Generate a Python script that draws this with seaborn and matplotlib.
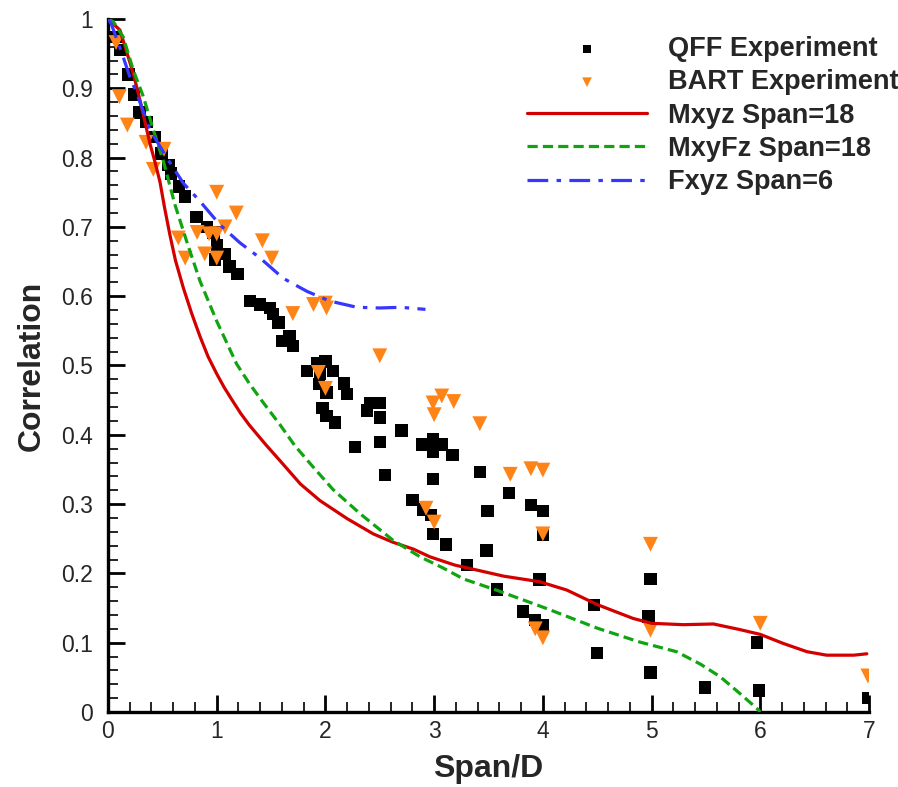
import numpy as np
import pandas as pd
import matplotlib
matplotlib.use("Agg")
import matplotlib.pyplot as plt
import matplotlib.ticker as mticker
import seaborn as sns

# ── Data ──────────────────────────────────────────────────────────────────────

qff_x = [0.07, 0.11, 0.187, 0.24, 0.288, 0.356, 0.43, 0.494, 0.555, 0.577,
         0.655, 0.708, 0.816, 0.908, 0.97, 1.0, 0.984, 1.07, 1.116, 1.19,
         1.306, 1.40, 1.49, 1.52, 1.567, 1.598, 1.67, 1.70, 1.83, 1.92,
         2.0, 2.07, 1.95, 1.94, 2.01, 2.17, 2.20, 1.975, 2.01, 2.09,
         2.41, 2.50, 2.385, 2.50, 2.70, 2.27, 2.50, 2.99, 2.89, 3.07,
         2.99, 3.17, 2.55, 2.99, 3.42, 3.69, 3.49, 3.89, 4.0, 4.0,
         2.80, 2.895, 2.97, 2.99, 3.11, 3.48, 3.30, 3.58, 3.97, 3.82,
         3.93, 4.0, 4.47, 4.50, 4.99, 4.97, 4.99, 5.49, 5.97, 5.99, 6.99]
qff_y = [0.974, 0.955, 0.92, 0.891, 0.865, 0.851, 0.83, 0.806, 0.789, 0.777,
         0.758, 0.744, 0.714, 0.70, 0.692, 0.674, 0.653, 0.661, 0.643, 0.632,
         0.593, 0.588, 0.583, 0.574, 0.562, 0.535, 0.542, 0.528, 0.492, 0.504,
         0.506, 0.492, 0.488, 0.473, 0.461, 0.474, 0.459, 0.439, 0.427, 0.418,
         0.446, 0.446, 0.435, 0.425, 0.406, 0.382, 0.39, 0.394, 0.386, 0.386,
         0.376, 0.371, 0.342, 0.336, 0.346, 0.316, 0.29, 0.299, 0.29, 0.256,
         0.306, 0.292, 0.284, 0.257, 0.242, 0.233, 0.2125, 0.177, 0.191, 0.145,
         0.133, 0.125, 0.154, 0.085, 0.192, 0.138, 0.057, 0.0355, 0.10, 0.031, 0.02]

bart_x = [0.074, 0.104, 0.178, 0.35, 0.417, 0.515, 0.647, 0.71, 0.82, 0.89,
          0.93, 1.0, 1.0, 1.0, 1.076, 1.18, 1.42, 1.506, 1.70, 1.89,
          2.0, 2.01, 1.935, 2.0, 2.50, 2.99, 3.07, 3.18, 3.0, 3.42,
          3.70, 3.89, 4.0, 4.0, 2.925, 3.0, 3.93, 4.0, 4.99, 4.99, 6.0, 6.99]
bart_y = [0.966, 0.888, 0.847, 0.822, 0.783, 0.812, 0.684, 0.655, 0.692, 0.661,
          0.69, 0.69, 0.655, 0.75, 0.70, 0.72, 0.68, 0.655, 0.575, 0.588,
          0.59, 0.583, 0.49, 0.467, 0.514, 0.446, 0.456, 0.448, 0.429, 0.416,
          0.343, 0.351, 0.349, 0.257, 0.294, 0.274, 0.12, 0.107, 0.242, 0.118,
          0.128, 0.052]

mxyz_x = [0, 0.11, 0.233, 0.294, 0.386, 0.43, 0.478, 0.52, 0.57, 0.62,
          0.693, 0.77, 0.846, 0.92, 1.0, 1.07, 1.138, 1.22, 1.3, 1.45,
          1.58, 1.77, 1.95, 2.2, 2.44, 2.62, 2.81, 2.96, 3.19, 3.36,
          3.64, 3.97, 4.22, 4.5, 4.83, 5.0, 5.29, 5.57, 5.81, 6.0,
          6.21, 6.43, 6.61, 6.86, 6.98]
mxyz_y = [1.0, 0.984, 0.921, 0.883, 0.82, 0.795, 0.765, 0.728, 0.688, 0.652,
          0.612, 0.575, 0.542, 0.513, 0.488, 0.468, 0.451, 0.431, 0.414, 0.386,
          0.363, 0.329, 0.305, 0.279, 0.257, 0.245, 0.235, 0.224, 0.212, 0.206,
          0.196, 0.188, 0.176, 0.155, 0.135, 0.128, 0.126, 0.127, 0.119, 0.112,
          0.099, 0.087, 0.082, 0.082, 0.084]

mxyfz_x = [0, 0.05, 0.14, 0.233, 0.325, 0.417, 0.509, 0.616, 0.724, 0.846,
           1.0, 1.184, 1.30, 1.43, 1.58, 1.72, 1.89, 2.07, 2.32, 2.62,
           2.87, 3.08, 3.27, 3.58, 4.04, 4.5, 4.89, 5.23, 5.45, 5.63,
           5.81, 5.97, 6.0]
mxyfz_y = [1.0, 0.996, 0.974, 0.926, 0.888, 0.84, 0.795, 0.732, 0.679, 0.622,
           0.564, 0.502, 0.474, 0.446, 0.415, 0.384, 0.353, 0.321, 0.286, 0.248,
           0.224, 0.208, 0.192, 0.1755, 0.149, 0.121, 0.101, 0.087, 0.069, 0.051,
           0.027, 0.005, 0.0]

fxyz_x = [0, 0.03, 0.14, 0.2, 0.264, 0.386, 0.54, 0.693, 0.846, 1.03,
          1.214, 1.40, 1.61, 1.83, 2.04, 2.29, 2.5, 2.69, 2.92]
fxyz_y = [1.0, 0.993, 0.945, 0.917, 0.893, 0.84, 0.80, 0.763, 0.737, 0.703,
          0.677, 0.655, 0.626, 0.607, 0.593, 0.584, 0.583, 0.584, 0.581]

# ── Style ─────────────────────────────────────────────────────────────────────

sns.set_style("ticks")
plt.rcParams["font.family"] = ["Liberation Sans", "DejaVu Sans"]

RED = "#d40000"
GREEN = "#10a510"
BLUE = "#3636ff"
ORANGE = "#ff8418"

fig = plt.figure(figsize=(8.98, 7.87), dpi=100)
ax = fig.add_axes([108 / 898, 75 / 787, 761 / 898, 693 / 787])

sns.scatterplot(x=qff_x, y=qff_y, ax=ax, marker="s", s=80, color="black",
                edgecolor="none", label="QFF Experiment", zorder=3)
sns.scatterplot(x=bart_x, y=bart_y, ax=ax, marker="v", s=115, color=ORANGE,
                edgecolor="none", label="BART Experiment", zorder=4)

sns.lineplot(x=mxyz_x, y=mxyz_y, ax=ax, sort=False, estimator=None,
             color=RED, lw=2.3, label="Mxyz Span=18", zorder=5)
sns.lineplot(x=mxyfz_x, y=mxyfz_y, ax=ax, sort=False, estimator=None,
             color=GREEN, lw=2.3, ls=(0, (3.2, 1.6)), label="MxyFz Span=18", zorder=5)
sns.lineplot(x=fxyz_x, y=fxyz_y, ax=ax, sort=False, estimator=None,
             color=BLUE, lw=2.3, ls=(0, (6.5, 2.6, 1.4, 2.6)), label="Fxyz Span=6", zorder=5)

ax.set_xlim(0, 7)
ax.set_ylim(0, 1)
ax.xaxis.set_major_locator(mticker.MultipleLocator(1))
ax.xaxis.set_minor_locator(mticker.MultipleLocator(0.2))
ax.yaxis.set_major_locator(mticker.MultipleLocator(0.1))
ax.yaxis.set_minor_locator(mticker.MultipleLocator(0.02))
ax.yaxis.set_major_formatter(mticker.FuncFormatter(lambda v, p: f"{v:g}"))

sns.despine(ax=ax)
for side in ("left", "bottom"):
    ax.spines[side].set_linewidth(2.4)
    ax.spines[side].set_color("black")
ax.tick_params(which="major", direction="in", length=12, width=2, labelsize=16.5,
               color="black")
ax.tick_params(which="minor", direction="in", length=7, width=1.2, color="black")
ax.tick_params(axis="x", which="major", pad=6)
ax.tick_params(axis="y", which="major", pad=11)

ax.set_xlabel("Span/D", fontsize=23, fontweight="bold", labelpad=8)
ax.set_ylabel("Correlation", fontsize=23, fontweight="bold", labelpad=10)

ax.legend(loc="upper left", bbox_to_anchor=(527 / 898, 1 - 36 / 787),
          bbox_transform=fig.transFigure, frameon=False,
          prop={"weight": "bold", "size": 19.5}, borderpad=0, borderaxespad=0,
          handlelength=4.43, handletextpad=0.78, labelspacing=0.27, markerscale=0.65)

fig.savefig("out.png", dpi=100)
